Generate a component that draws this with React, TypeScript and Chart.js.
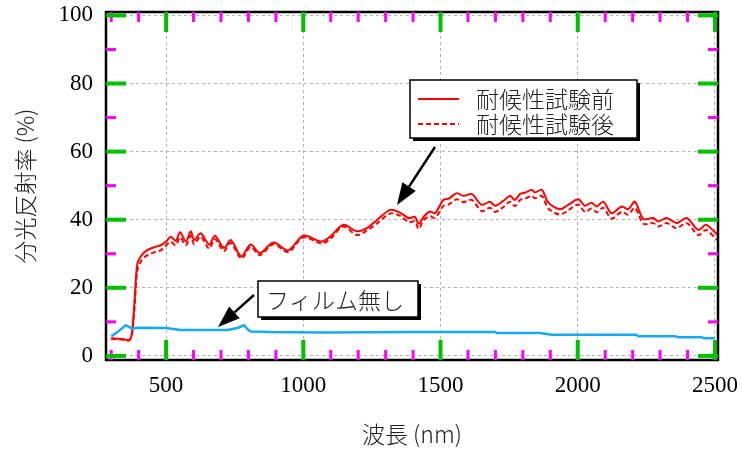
import React, { useEffect, useRef } from 'react';
import { Chart, registerables } from 'chart.js';

Chart.register(...registerables);

// ---- Data ----
const wavelengthRed = [
  300, 340, 365, 375, 385, 395, 410, 430, 460, 480, 500, 517, 535, 551, 572, 590, 602, 626, 657, 678,
  711, 736, 774, 808, 842, 891, 945, 1000, 1067, 1100, 1146, 1195, 1231, 1270, 1316, 1352, 1383, 1407,
  1420, 1440, 1462, 1480, 1510, 1530, 1559, 1583, 1614, 1650, 1680, 1699, 1730, 1753, 1771, 1790, 1810,
  1832, 1844, 1869, 1893, 1935, 1966, 2002, 2026, 2050, 2069, 2093, 2123, 2160, 2184, 2208, 2239, 2275,
  2294, 2324, 2360, 2397, 2439, 2467, 2496, 2510,
];
const reflectanceBefore = [
  5.2, 5.0, 4.7, 6.5, 16, 27, 29.5, 31, 32, 32.5, 33.6, 35, 33.8, 36.3, 33.6, 36.6, 34, 36, 32.7, 35.3,
  31.7, 34, 29.2, 32.7, 30.2, 33.3, 31, 35.3, 33.6, 35.2, 38.5, 36.6, 37.5, 40, 42.9, 42.1, 40.5, 40.8,
  38.8, 41, 42.4, 41.9, 45.8, 46.2, 47.8, 47, 47.5, 44.4, 45.3, 44.1, 45.6, 47, 45.8, 47.6, 48,
  48.8, 48, 48.8, 45, 43.1, 44.4, 46, 44.1, 45, 43.9, 45.3, 41.9, 43.9, 43.1, 45.3, 40.2, 40.5,
  39.5, 40.5, 39, 40.5, 37, 38.5, 36.6, 35.5,
];
const reflectanceAfter = [
  5.0, 4.8, 4.5, 6, 14, 25, 28, 29.5, 30.5, 31, 32.5, 33.5, 32.5, 34.8, 32.5, 35.3, 32.8, 35, 31.5, 34.3,
  30.8, 33.2, 28.6, 32, 29.6, 32.8, 30.5, 34.8, 33, 34.5, 38, 35.5, 36.8, 39, 41.8, 41.2, 39.3, 39.5,
  37.3, 40, 41, 40.5, 44, 44.5, 46, 45.2, 45.8, 42.5, 43.5, 42.3, 43.8, 45.3, 44, 45.8, 46.3,
  47, 46.3, 47, 43.3, 41.5, 42.8, 44.5, 42.3, 43.3, 42.2, 43.5, 40.3, 42.3, 41.5, 43.5, 38.8, 39,
  38, 39, 37.5, 39, 35.5, 37, 35, 34,
];
const wavelengthBlue = [
  300, 311, 330, 353, 377, 396, 500, 553, 723, 760, 784, 800, 808, 881, 1076, 1389, 1699, 1705, 1862,
  1905, 2214, 2220, 2355, 2365, 2450, 2460, 2500,
];
const reflectanceNoFilm = [
  5.8, 6.3, 7.5, 9.0, 8.0, 8.3, 8.2, 7.6, 7.6, 8.2, 9.0, 7.6, 7.2, 7.0, 6.9, 7.0, 7.0, 6.7, 6.7,
  6.2, 6.2, 5.8, 5.8, 5.5, 5.5, 5.2, 5.2,
];

const seriesLabels = ['耐候性試験前', '耐候性試験後', 'フィルム無し'];
const xTitle = '波長 (nm)';
const yTitle = '分光反射率 (%)';
const xTickValues = [500, 1000, 1500, 2000, 2500];
const yTickValues = [0, 20, 40, 60, 80, 100];
const xMinorTickValues = [300, 400, 600, 700, 800, 900, 1100, 1200, 1300, 1400, 1600, 1700, 1800, 1900, 2100, 2200, 2300, 2400];
const yMinorTickValues = [10, 30, 50, 70, 90];
const xRange = [281, 2511];
const yRange = [-1.2, 101];

const RED = '#ff0000';
const BLUE = '#16aaf2';
const CJK = '"Noto Sans CJK JP", "Noto Sans CJK SC", sans-serif';

function toPoints(xs: number[], ys: number[]) {
  return xs.map((x, i) => ({ x, y: ys[i] }));
}

function drawArrow(ctx: CanvasRenderingContext2D, x0: number, y0: number, x1: number, y1: number) {
  const ang = Math.atan2(y1 - y0, x1 - x0);
  const headLen = 22;
  const headW = 8;
  const bx = x1 - headLen * Math.cos(ang);
  const by = y1 - headLen * Math.sin(ang);
  ctx.beginPath();
  ctx.moveTo(x0, y0);
  ctx.lineTo(bx, by);
  ctx.lineWidth = 2.5;
  ctx.strokeStyle = '#000';
  ctx.stroke();
  ctx.beginPath();
  ctx.moveTo(x1, y1);
  ctx.lineTo(bx + headW * Math.sin(ang), by - headW * Math.cos(ang));
  ctx.lineTo(bx - headW * Math.sin(ang), by + headW * Math.cos(ang));
  ctx.closePath();
  ctx.fillStyle = '#000';
  ctx.fill();
}

function shadowBox(ctx: CanvasRenderingContext2D, x: number, y: number, w: number, h: number) {
  ctx.fillStyle = '#000';
  ctx.fillRect(x + 3, y + 3, w, h);
  ctx.fillStyle = '#fff';
  ctx.fillRect(x, y, w, h);
  ctx.lineWidth = 1.5;
  ctx.strokeStyle = '#000';
  ctx.strokeRect(x, y, w, h);
}

function tickSet(ctx: CanvasRenderingContext2D, a: any, xs: any, ys: any, xv: number[], yv: number[], len: number, lw: number, color: string) {
  ctx.fillStyle = color;
  xv.forEach((v) => {
    const px = xs.getPixelForValue(v);
    ctx.fillRect(px - lw / 2, a.bottom - len, lw, len);
    ctx.fillRect(px - lw / 2, a.top, lw, len);
  });
  yv.forEach((v) => {
    const py = ys.getPixelForValue(v);
    ctx.fillRect(a.left, py - lw / 2, len, lw);
    ctx.fillRect(a.right - len, py - lw / 2, len, lw);
  });
}

const framePlugin = {
  id: 'frameTicks',
  afterDraw(chart: any) {
    const ctx: CanvasRenderingContext2D = chart.ctx;
    const a = chart.chartArea;
    const xs = chart.scales.x;
    const ys = chart.scales.y;
    ctx.save();
    ctx.setLineDash([]);
    ctx.lineWidth = 2.5;
    ctx.strokeStyle = '#000';
    ctx.strokeRect(a.left, a.top, a.right - a.left, a.bottom - a.top);
    tickSet(ctx, a, xs, ys, xMinorTickValues, yMinorTickValues, 10, 3, '#ff00ff');
    tickSet(ctx, a, xs, ys, xTickValues, yTickValues, 20, 4, '#00c000');

    // legend box
    shadowBox(ctx, 410, 80, 227, 58);
    ctx.lineWidth = 2;
    ctx.strokeStyle = RED;
    ctx.beginPath();
    ctx.moveTo(418, 99);
    ctx.lineTo(459, 99);
    ctx.stroke();
    ctx.setLineDash([5, 3]);
    ctx.beginPath();
    ctx.moveTo(418, 124);
    ctx.lineTo(459, 124);
    ctx.stroke();
    ctx.setLineDash([]);
    ctx.fillStyle = '#222';
    ctx.font = `300 23px ${CJK}`;
    ctx.textBaseline = 'middle';
    ctx.textAlign = 'left';
    ctx.fillText(seriesLabels[0], 476, 99);
    ctx.fillText(seriesLabels[1], 476, 124);
    drawArrow(ctx, 435, 147, 397, 205);

    // no-film annotation
    shadowBox(ctx, 258, 281, 160, 36);
    ctx.fillStyle = '#222';
    ctx.font = `300 23px ${CJK}`;
    ctx.fillText(seriesLabels[2], 266, 300);
    drawArrow(ctx, 254, 295, 218, 327);
    ctx.restore();
  },
};

export default function App() {
  const ref = useRef<HTMLCanvasElement | null>(null);
  useEffect(() => {
    if (!ref.current) return;
    const chart = new Chart(ref.current, {
      type: 'line',
      data: {
        datasets: [
          {
            label: seriesLabels[2],
            data: toPoints(wavelengthBlue, reflectanceNoFilm),
            borderColor: BLUE,
            borderWidth: 2.5,
            pointRadius: 0,
            tension: 0,
          },
          {
            label: seriesLabels[1],
            data: toPoints(wavelengthRed, reflectanceAfter),
            borderColor: RED,
            borderWidth: 2,
            borderDash: [5, 3],
            pointRadius: 0,
            tension: 0.3,
          },
          {
            label: seriesLabels[0],
            data: toPoints(wavelengthRed, reflectanceBefore),
            borderColor: RED,
            borderWidth: 2,
            pointRadius: 0,
            tension: 0.3,
          },
        ],
      },
      options: {
        animation: false,
        responsive: true,
        maintainAspectRatio: false,
        layout: { padding: { left: 0, top: 12, right: 24, bottom: 0 } },
        plugins: { legend: { display: false }, tooltip: { enabled: false } },
        scales: {
          x: {
            type: 'linear',
            min: xRange[0],
            max: xRange[1],
            border: { display: false, dash: [3, 3] },
            grid: {
              color: '#b4b4b4',
              lineWidth: 1,
              drawTicks: false,
              tickLength: 0,
            },
            ticks: {
              padding: 12,
              color: '#000',
              font: { family: '"Liberation Serif", serif', size: 23 },
              maxRotation: 0,
              autoSkip: false,
              callback: (v: any) => String(v),
            },
            afterBuildTicks(scale: any) {
              scale.ticks = xTickValues.map((value) => ({ value }));
            },
            title: {
              display: true,
              text: xTitle,
              color: '#222',
              font: { family: CJK, size: 23, weight: '300' },
              padding: { top: 0, bottom: 4 },
            },
            afterFit(scale: any) {
              scale.height = 92;
              scale.paddingLeft = 0;
              scale.paddingRight = 0;
            },
          } as any,
          y: {
            type: 'linear',
            min: yRange[0],
            max: yRange[1],
            border: { display: false, dash: [3, 3] },
            grid: {
              color: '#b4b4b4',
              lineWidth: 1,
              drawTicks: false,
              tickLength: 0,
            },
            ticks: {
              padding: 13,
              color: '#000',
              font: { family: '"Liberation Serif", serif', size: 23 },
              autoSkip: false,
              callback: (v: any) => String(v),
            },
            afterBuildTicks(scale: any) {
              scale.ticks = yTickValues.map((value) => ({ value }));
            },
            title: {
              display: true,
              text: yTitle,
              color: '#222',
              font: { family: CJK, size: 23, weight: '300' },
              padding: { top: 11, bottom: 0 },
            },
            afterFit(scale: any) {
              scale.width = 106;
              scale.paddingTop = 0;
              scale.paddingBottom = 0;
            },
          } as any,
        },
      },
      plugins: [framePlugin],
    });
    return () => chart.destroy();
  }, []);
  return (
    <div style={{ position: 'fixed', left: 0, top: 0, width: 742, height: 452, background: '#fff' }}>
      <canvas ref={ref} />
    </div>
  );
}
